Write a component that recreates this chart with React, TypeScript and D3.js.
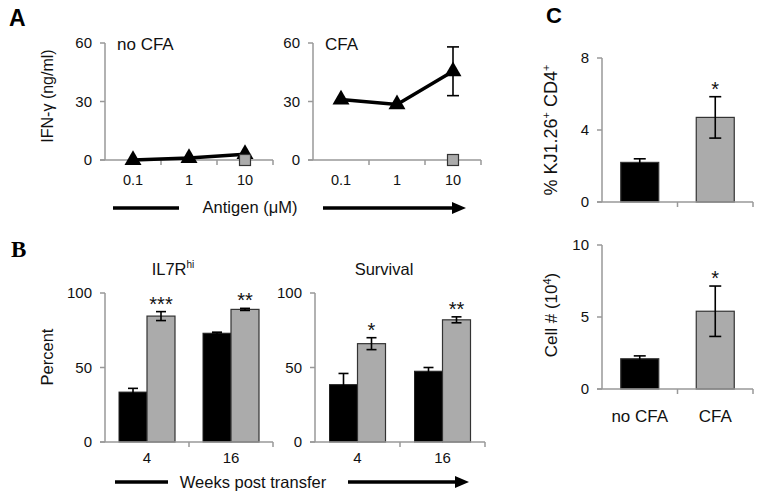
import React from 'react';
import * as d3 from 'd3';

// ---- Data ----
const doses = ['0.1', '1', '10'];
const ifnNoCFA = [0, 1, 3];
const ifnCFA = [31, 28.5, 45.5];
const ifnCFAErr = [0, 0, 12.5];
const ifnControlDose = '10';
const ifnControlValue = 0;
const ifnTicks = [0, 30, 60];

const weeks = ['4', '16'];
const il7rNoCFA = [33.5, 73];
const il7rNoCFAErr = [2.5, 0.7];
const il7rCFA = [84.5, 89];
const il7rCFAErr = [3, 0.7];
const il7rStars = ['***', '**'];
const survNoCFA = [38.5, 47.5];
const survNoCFAErr = [7.5, 2.5];
const survCFA = [66, 82];
const survCFAErr = [4, 2];
const survStars = ['*', '**'];
const pctTicks = [0, 50, 100];

const groupsC = ['no CFA', 'CFA'];
const kjValues = [2.2, 4.7];
const kjErr = [0.2, 1.15];
const kjStars = ['', '*'];
const kjTicks = [0, 4, 8];
const cellValues = [2.1, 5.4];
const cellErr = [0.2, 1.75];
const cellStars = ['', '*'];
const cellTicks = [0, 5, 10];

const FONT = 'Liberation Sans, Arial, sans-serif';
const AXIS = '#999999';
const GREY = '#ababab';

function YAxis({ x, scale, ticks, fs = 15 }: any) {
  const [lo, hi] = scale.domain();
  return (
    <g>
      <line x1={x} x2={x} y1={scale(lo)} y2={scale(hi)} stroke={AXIS} strokeWidth={1.5} />
      {ticks.map((t: number) => (
        <g key={t}>
          <line x1={x - 5} x2={x} y1={scale(t)} y2={scale(t)} stroke={AXIS} strokeWidth={1.5} />
          <text x={x - 13} y={scale(t)} dy="0.36em" textAnchor="end" fontSize={fs} fontFamily={FONT} fill="#111">{t}</text>
        </g>
      ))}
    </g>
  );
}

function XAxis({ scale, y, x0, labelY, fs = 14 }: any) {
  const [r0, r1] = scale.range();
  const bw = scale.bandwidth();
  const dom = scale.domain();
  return (
    <g>
      <line x1={x0} x2={r1} y1={y} y2={y} stroke={AXIS} strokeWidth={1.5} />
      {dom.map((d: string, i: number) => (
        <g key={d}>
          <line x1={r0 + (i + 1) * bw} x2={r0 + (i + 1) * bw} y1={y} y2={y + 5} stroke={AXIS} strokeWidth={1.5} />
          <text x={(scale(d) as number) + bw / 2} y={labelY} textAnchor="middle" fontSize={fs} fontFamily={FONT} fill="#111">{d}</text>
        </g>
      ))}
    </g>
  );
}

function ErrBar({ x, yTop, yBot, cap = 5 }: any) {
  return (
    <g stroke="#000" strokeWidth={1.6}>
      <line x1={x} x2={x} y1={yTop} y2={yBot} />
      <line x1={x - cap} x2={x + cap} y1={yTop} y2={yTop} />
      <line x1={x - cap} x2={x + cap} y1={yBot} y2={yBot} />
    </g>
  );
}

function LinePanel({ x0, x1, values, errs, title, showControl }: any) {
  const xs = d3.scaleBand().domain(doses).range([x0, x1]).padding(0);
  const ys = d3.scaleLinear().domain([0, 60]).range([160, 43]);
  const cx = (d: string) => (xs(d) as number) + xs.bandwidth() / 2;
  const pts: [number, number][] = doses.map((d, i) => [cx(d), ys(values[i])]);
  const line = d3.line();
  const tri = d3.symbol().type(d3.symbolTriangle).size(125)();
  return (
    <g>
      <YAxis x={x0} scale={ys} ticks={ifnTicks} fs={15} />
      <XAxis scale={xs} y={ys(0)} x0={x0 - 5} labelY={185} fs={14.5} />
      <text x={x0 + 12} y={50} fontSize={17} fontFamily={FONT} fill="#111">{title}</text>
      <path d={line(pts) as string} fill="none" stroke="#000" strokeWidth={3.5} />
      {doses.map((d, i) => errs[i] > 0 ? (
        <ErrBar key={'e' + d} x={cx(d)} yTop={ys(values[i] + errs[i])} yBot={ys(values[i] - errs[i])} cap={6} />
      ) : null)}
      {pts.map((p, i) => (
        <path key={i} d={tri as string} transform={`translate(${p[0]},${p[1]})`} fill="#000" />
      ))}
      {showControl && (
        <rect x={cx(ifnControlDose) - 5.5} y={ys(ifnControlValue) - 5.5} width={11} height={11} fill={GREY} stroke="#333" strokeWidth={1.2} />
      )}
    </g>
  );
}

function BarPanelB({ x0, x1, a, aErr, b, bErr, stars, title, titleSup }: any) {
  const xs = d3.scaleBand().domain(weeks).range([x0, x1]).padding(0);
  const ys = d3.scaleLinear().domain([0, 100]).range([442, 293]);
  const bw = 28;
  const cx = (d: string) => (xs(d) as number) + xs.bandwidth() / 2;
  return (
    <g>
      <YAxis x={x0} scale={ys} ticks={pctTicks} fs={15} />
      {weeks.map((w, i) => (
        <g key={w}>
          <rect x={cx(w) - bw} y={ys(a[i])} width={bw} height={ys(0) - ys(a[i])} fill="#000" stroke="#222" strokeWidth={1} />
          <rect x={cx(w)} y={ys(b[i])} width={bw} height={ys(0) - ys(b[i])} fill={GREY} stroke="#333" strokeWidth={1.2} />
          <ErrBar x={cx(w) - bw / 2} yTop={ys(a[i] + aErr[i])} yBot={ys(a[i] - aErr[i])} cap={5} />
          <ErrBar x={cx(w) + bw / 2} yTop={ys(b[i] + bErr[i])} yBot={ys(b[i] - bErr[i])} cap={5} />
          <text x={cx(w) + bw / 2} y={ys(b[i] + bErr[i]) - 1} textAnchor="middle" fontSize={20} fontFamily={FONT} fill="#111">{stars[i]}</text>
        </g>
      ))}
      <XAxis scale={xs} y={ys(0)} x0={x0 - 5} labelY={463} fs={15} />
      <text x={(x0 + x1) / 2 - 16} y={275} textAnchor="middle" fontSize={16.5} fontFamily={FONT} fill="#111">
        {title}{titleSup && <tspan fontSize={10} dy={-7}>{titleSup}</tspan>}
      </text>
    </g>
  );
}

function BarPanelC({ yRange, domainMax, ticks, values, errs, stars, showLabels }: any) {
  const x0 = 602, x1 = 753;
  const xs = d3.scaleBand().domain(groupsC).range([x0, x1]).padding(0);
  const ys = d3.scaleLinear().domain([0, domainMax]).range(yRange);
  const bw = 38;
  const cx = (d: string) => (xs(d) as number) + xs.bandwidth() / 2;
  return (
    <g>
      <YAxis x={x0} scale={ys} ticks={ticks} fs={15} />
      {groupsC.map((g, i) => (
        <g key={g}>
          <rect x={cx(g) - bw / 2} y={ys(values[i])} width={bw} height={ys(0) - ys(values[i])} fill={i === 0 ? '#000' : GREY} stroke="#333" strokeWidth={1.2} />
          <ErrBar x={cx(g)} yTop={ys(values[i] + errs[i])} yBot={ys(values[i] - errs[i])} cap={6} />
          <text x={cx(g)} y={ys(values[i] + errs[i]) - 1} textAnchor="middle" fontSize={20} fontFamily={FONT} fill="#111">{stars[i]}</text>
        </g>
      ))}
      <line x1={x0 - 5} x2={x1} y1={ys(0)} y2={ys(0)} stroke={AXIS} strokeWidth={1.5} />
      {groupsC.map((g, i) => (
        <g key={'t' + g}>
          <line x1={x0 + (i + 1) * xs.bandwidth()} x2={x0 + (i + 1) * xs.bandwidth()} y1={ys(0)} y2={ys(0) + 5} stroke={AXIS} strokeWidth={1.5} />
          {showLabels && <text x={cx(g)} y={422} textAnchor="middle" fontSize={17} fontFamily={FONT} fill="#111">{g}</text>}
        </g>
      ))}
    </g>
  );
}

function Arrow({ x1, x2, y }: any) {
  return (
    <g>
      <line x1={x1} x2={x2 - 10} y1={y} y2={y} stroke="#000" strokeWidth={3.5} />
      <path d={`M${x2},${y} L${x2 - 14},${y - 6} L${x2 - 14},${y + 6} Z`} fill="#000" />
    </g>
  );
}

export default function App() {
  return (
    <svg width={767} height={498} style={{ position: 'absolute', left: 0, top: 0, background: '#fff' }}>
      <rect width={767} height={498} fill="#fff" />
      {/* Panel labels */}
      <text x={9} y={26} fontSize={23} fontWeight="bold" fontFamily={FONT} fill="#000">A</text>
      <text x={11} y={257} fontSize={23} fontWeight="bold" fontFamily="Liberation Serif, Times New Roman, serif" fill="#000">B</text>
      <text x={546} y={23} fontSize={22} fontWeight="bold" fontFamily={FONT} fill="#000">C</text>

      {/* Panel A */}
      <text transform="translate(53,96) rotate(-90)" textAnchor="middle" fontSize={16} fontFamily={FONT} fill="#111">IFN-γ (ng/ml)</text>
      <LinePanel x0={105} x1={273} values={ifnNoCFA} errs={[0, 0, 0]} title="no CFA" showControl />
      <LinePanel x0={313} x1={481} values={ifnCFA} errs={ifnCFAErr} title="CFA" showControl />
      <line x1={113} x2={179} y1={208} y2={208} stroke="#000" strokeWidth={3.5} />
      <text x={250} y={213} textAnchor="middle" fontSize={16.5} fontFamily={FONT} fill="#111">Antigen (μM)</text>
      <Arrow x1={323} x2={466} y={208} />

      {/* Panel B */}
      <text transform="translate(53,357) rotate(-90)" textAnchor="middle" fontSize={16.5} fontFamily={FONT} fill="#111">Percent</text>
      <BarPanelB x0={105} x1={273} a={il7rNoCFA} aErr={il7rNoCFAErr} b={il7rCFA} bErr={il7rCFAErr} stars={il7rStars} title="IL7R" titleSup="hi" />
      <BarPanelB x0={315} x1={485} a={survNoCFA} aErr={survNoCFAErr} b={survCFA} bErr={survCFAErr} stars={survStars} title="Survival" />
      <line x1={115} x2={168} y1={482} y2={482} stroke="#000" strokeWidth={3.5} />
      <text x={253} y={488} textAnchor="middle" fontSize={16.5} fontFamily={FONT} fill="#111">Weeks post transfer</text>
      <Arrow x1={348} x2={469} y={482} />

      {/* Panel C */}
      <text transform="translate(557,130) rotate(-90)" textAnchor="middle" fontSize={18} fontFamily={FONT} fill="#111">
        % KJ1.26<tspan fontSize={11} dy={-7}>+</tspan><tspan dy={7}> CD4</tspan><tspan fontSize={11} dy={-7}>+</tspan>
      </text>
      <BarPanelC yRange={[202, 58]} domainMax={8} ticks={kjTicks} values={kjValues} errs={kjErr} stars={kjStars} showLabels={false} />
      <text transform="translate(557,315) rotate(-90)" textAnchor="middle" fontSize={17} fontFamily={FONT} fill="#111">
        Cell # (10<tspan fontSize={11} dy={-6}>4</tspan><tspan dy={6}>)</tspan>
      </text>
      <BarPanelC yRange={[389, 245]} domainMax={10} ticks={cellTicks} values={cellValues} errs={cellErr} stars={cellStars} showLabels />
    </svg>
  );
}
